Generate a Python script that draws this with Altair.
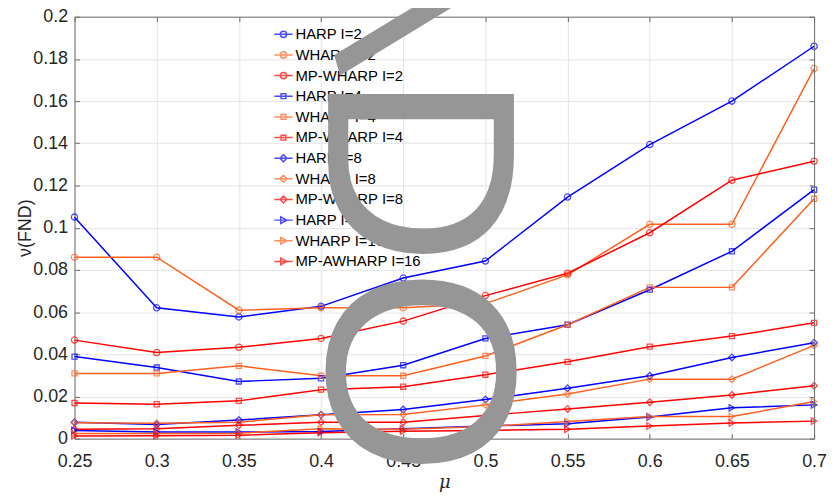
import altair as alt
import pandas as pd

# ---------------- data ----------------
mu_values = [0.25, 0.3, 0.35, 0.4, 0.45, 0.5, 0.55, 0.6, 0.65, 0.7]
y_ticks = [0, 0.02, 0.04, 0.06, 0.08, 0.1, 0.12, 0.14, 0.16, 0.18, 0.2]

series_names = [
    "HARP I=2", "WHARP I=2", "MP-WHARP I=2",
    "HARP I=4", "WHARP I=4", "MP-WHARP I=4",
    "HARP I=8", "WHARP I=8", "MP-WHARP I=8",
    "HARP I=16", "WHARP I=16", "MP-AWHARP I=16",
]

harp_2 = [0.105, 0.062, 0.0577, 0.0627, 0.0761, 0.0842, 0.1145, 0.1394, 0.160, 0.186]
wharp_2 = [0.086, 0.086, 0.0609, 0.062, 0.062, 0.064, 0.0776, 0.1016, 0.1016, 0.1754]
mpwharp_2 = [0.0467, 0.0408, 0.0433, 0.0475, 0.0557, 0.0678, 0.0784, 0.0976, 0.1225, 0.1315]
harp_4 = [0.0389, 0.0337, 0.0271, 0.0286, 0.0348, 0.0475, 0.054, 0.0706, 0.0888, 0.118]
wharp_4 = [0.0309, 0.0309, 0.0345, 0.0298, 0.0298, 0.0392, 0.054, 0.0717, 0.0717, 0.1137]
mpwharp_4 = [0.0169, 0.0163, 0.0179, 0.0232, 0.0246, 0.0303, 0.0364, 0.0436, 0.0486, 0.0549]
harp_8 = [0.0078, 0.0067, 0.0088, 0.0113, 0.0138, 0.0185, 0.0239, 0.0298, 0.0385, 0.0455]
wharp_8 = [0.0075, 0.0073, 0.0078, 0.0113, 0.0114, 0.016, 0.0212, 0.0282, 0.0282, 0.0442]
mpwharp_8 = [0.0044, 0.0047, 0.0063, 0.0078, 0.0078, 0.011, 0.0141, 0.0173, 0.0207, 0.0251]
harp_16 = [0.0039, 0.0031, 0.0031, 0.0034, 0.0047, 0.006, 0.007, 0.0102, 0.0146, 0.016]
wharp_16 = [0.0024, 0.0024, 0.0026, 0.0047, 0.0045, 0.0057, 0.0081, 0.0105, 0.0105, 0.0176]
mpawharp_16 = [0.0013, 0.0014, 0.0016, 0.0028, 0.0035, 0.0039, 0.0044, 0.006, 0.0074, 0.0083]

series_values = [harp_2, wharp_2, mpwharp_2, harp_4, wharp_4, mpwharp_4,
                 harp_8, wharp_8, mpwharp_8, harp_16, wharp_16, mpawharp_16]

# large grey glyphs lying over the figure
overlay_slash = "\\"
overlay_word = "DO"

# ---------------- styles ----------------
BLUE, ORANGE, RED = "#0000ff", "#ff6020", "#ff0000"
series_colors = [BLUE, ORANGE, RED] * 4
marker_groups = ["circle"] * 3 + ["square"] * 3 + ["diamond"] * 3 + ["triangle-right"] * 3
marker_sizes = {"circle": 40, "square": 26, "diamond": 45, "triangle-right": 42}

# legend symbols: a horizontal line with the marker drawn on it
legend_marker_paths = {
    "circle": "M-0.34,0A0.34,0.34 0 1,1 0.34,0A0.34,0.34 0 1,1 -0.34,0Z",
    "square": "M-0.26,-0.26L0.26,-0.26L0.26,0.26L-0.26,0.26Z",
    "diamond": "M0,-0.38L0.38,0L0,0.38L-0.38,0Z",
    "triangle-right": "M-0.3,-0.36L0.38,0L-0.3,0.36Z",
}
legend_paths = ["M-1,0L1,0" + legend_marker_paths[g] for g in marker_groups]

rows = []
for name, vals, grp, col in zip(series_names, series_values, marker_groups, series_colors):
    for m, v in zip(mu_values, vals):
        rows.append({"mu": m, "value": v, "series": name, "marker": grp, "col": col})
df = pd.DataFrame(rows)

TEXT_COLOR = "#262626"
DOMAIN_COLOR = "#6e6e6e"
GRID_COLOR = "#e4e4e4"
OVERLAY_GREY = "#969696"
FONT = "Liberation Sans"

x_scale = alt.Scale(domain=[0.25, 0.7], nice=False, zero=False)
y_scale = alt.Scale(domain=[0, 0.2], nice=False, zero=False)
color_scale = alt.Scale(domain=series_names, range=series_colors)
inward = alt.ExprRef(expr="-5")

x_bottom = alt.Axis(
    orient="bottom", values=mu_values, format="~g", title="μ",
    grid=True, gridColor=GRID_COLOR, gridWidth=1,
    domainColor=DOMAIN_COLOR, domainWidth=1, tickColor=DOMAIN_COLOR, tickSize=inward,
    labelPadding=19, labelFont=FONT, labelFontSize=18, labelColor=TEXT_COLOR,
    labelFlush=False, labelOverlap=False,
    titleFont="DejaVu Serif", titleFontStyle="italic", titleFontWeight="normal",
    titleFontSize=18, titleColor=TEXT_COLOR, titleY=44, titleBaseline="middle",
)
y_left = alt.Axis(
    orient="left", values=y_ticks, format="~g", title="ν(FND)",
    grid=True, gridColor=GRID_COLOR, gridWidth=1,
    domainColor=DOMAIN_COLOR, domainWidth=1, tickColor=DOMAIN_COLOR, tickSize=inward,
    labelPadding=12, labelFont=FONT, labelFontSize=18, labelColor=TEXT_COLOR,
    labelOverlap=False,
    titleFont=FONT, titleFontWeight="normal", titleFontSize=18, titleColor=TEXT_COLOR,
    titleX=-49, titleY=212.5, titleBaseline="middle", titleAlign="center", titleAngle=270,
)
# top / right box axes; their (huge, grey) titles carry the overlay glyphs drawn on top
x_top = alt.Axis(
    orient="top", values=mu_values, labels=False, grid=False,
    domainColor=DOMAIN_COLOR, domainWidth=1, tickColor=DOMAIN_COLOR, tickSize=inward,
    title=overlay_word, titleFont=FONT, titleFontSize=272, titleFontWeight="normal",
    titleColor=OVERLAY_GREY, titleAngle=90, titleAlign="left", titleBaseline="alphabetic",
    titleX=255, titleY=55, titleLimit=2000, zindex=1,
)
y_right = alt.Axis(
    orient="right", values=y_ticks, labels=False, grid=False,
    domainColor=DOMAIN_COLOR, domainWidth=1, tickColor=DOMAIN_COLOR, tickSize=inward,
    title=overlay_slash, titleFont=FONT, titleFontSize=272, titleFontWeight="normal",
    titleColor=OVERLAY_GREY, titleAngle=74, titleAlign="center", titleBaseline="middle",
    titleX=-407, titleY=-1, titleLimit=2000, zindex=1,
)

base = alt.Chart(df)

lines = base.mark_line(strokeWidth=1.5).encode(
    x=alt.X("mu:Q", scale=x_scale, axis=x_bottom),
    y=alt.Y("value:Q", scale=y_scale, axis=y_left),
    color=alt.Color("col:N", scale=None),
    detail="series:N",
)

point_layers = []
for grp, size in marker_sizes.items():
    point_layers.append(
        base.transform_filter(alt.datum.marker == grp)
        .mark_point(shape=grp, size=size, filled=False, strokeWidth=1.3)
        .encode(
            x=alt.X("mu:Q", scale=x_scale, axis=None),
            y=alt.Y("value:Q", scale=y_scale, axis=None),
            color=alt.Color("col:N", scale=None),
        )
    )

legend_props = dict(
    orient="none", legendX=200.5, legendY=7.7, direction="vertical", title=None,
    symbolSize=342, symbolStrokeWidth=1.5, symbolOpacity=1, padding=0,
    rowPadding=2.8, labelOffset=2, labelFont=FONT, labelFontSize=15,
    labelColor="#000000", labelLimit=400, zindex=0,
)

legend_layer = base.mark_point(opacity=0, filled=False, strokeWidth=1.5).encode(
    x=alt.X("mu:Q", scale=x_scale, axis=x_top),
    y=alt.Y("value:Q", scale=y_scale, axis=y_right),
    color=alt.Color("series:N", scale=color_scale, legend=alt.Legend(**legend_props)),
    shape=alt.Shape("series:N", scale=alt.Scale(domain=series_names, range=legend_paths),
                    legend=alt.Legend(**legend_props)),
)

chart = alt.layer(lines, *point_layers, legend_layer).resolve_axis(
    x="independent", y="independent"
).properties(
    width=745, height=425,
    padding={"left": 67, "top": 7, "right": 13, "bottom": 55},
    autosize=alt.AutoSizeParams(type="none"),
    background="white",
).configure_view(strokeWidth=0)

chart.save("out.html", embed_options={"renderer": "svg", "actions": False})
